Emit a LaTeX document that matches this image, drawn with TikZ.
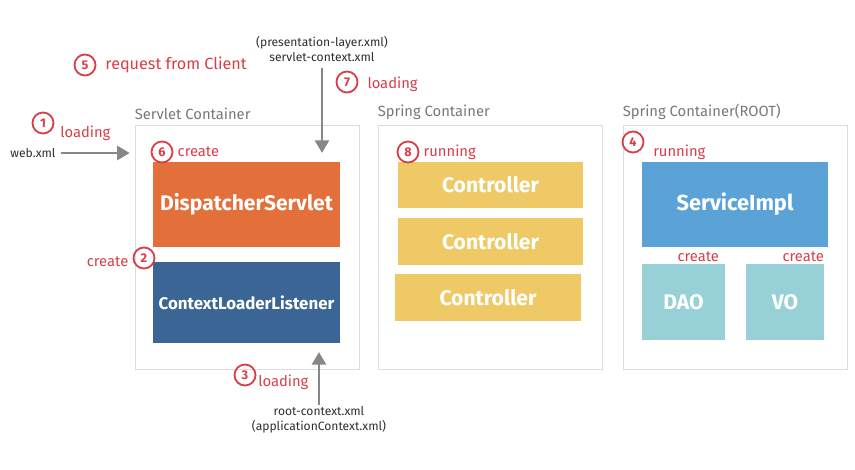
\documentclass[tikz,border=0pt]{standalone}
\usepackage{fontspec}
\setmainfont{Fira Sans}
\usepackage{tikz}
\usetikzlibrary{positioning}
\usetikzlibrary{arrows.meta}
\definecolor{color-frame}{RGB}{221,221,221}
\definecolor{color-title}{RGB}{120,120,120}
\definecolor{color-num}{RGB}{216,62,72}
\definecolor{color-file}{RGB}{45,45,45}
\definecolor{color-arrow}{RGB}{135,135,135}
\definecolor{color-dispatcher}{RGB}{227,112,58}
\definecolor{color-listener}{RGB}{58,101,149}
\definecolor{color-controller}{RGB}{238,201,101}
\definecolor{color-service}{RGB}{91,163,214}
\definecolor{color-dao}{RGB}{151,208,214}

\begin{document}
\begin{tikzpicture}[x=0.025cm, y=-0.025cm, node distance=0.1cm, >={Triangle[length=9pt,width=10pt]},
  container/.style={draw=color-frame, line width=0.7pt, minimum width=224*0.025cm, minimum height=244*0.025cm, inner sep=0},
  title/.style={text=color-title, font=\fontsize{10.5}{12}\selectfont, inner sep=0},
  num/.style={circle, draw=color-num, line width=1.3pt, text=color-num, font=\bfseries\fontsize{9}{10}\selectfont, minimum size=21*0.025cm, inner sep=0},
  note/.style={text=color-num, font=\fontsize{10.5}{12}\selectfont, inner sep=0},
  file/.style={text=color-file, font=\fontsize{8.6}{10.5}\selectfont, align=center, inner sep=0},
  block/.style={fill=#1, text=white, font=\fontseries{sb}\fontsize{15}{17}\selectfont, inner sep=0},
  arr/.style={->, draw=color-arrow, line width=2pt}]

\useasboundingbox (0,0) rectangle (855,469);

% containers
\node [container] (servlet) at (247,247) {};
\node [title, above right=0.12cm and 0cm of servlet.north west] {Servlet Container};

\node [container] (spring) at (490,247) {};
\node [title, above right=0.12cm and 0cm of spring.north west] {Spring Container};

\node [container] (root) at (735,247) {};
\node [title, above right=0.12cm and 0cm of root.north west] {Spring Container(ROOT)};

% servlet container
\node [block=color-dispatcher, minimum width=187*0.025cm, minimum height=85*0.025cm] (dispatcher) at (246.5,204.5) {DispatcherServlet};
\node [block=color-listener, minimum width=187*0.025cm, minimum height=81*0.025cm, font=\fontseries{sb}\fontsize{12}{14}\selectfont] (listener) at (246.5,302.5) {ContextLoaderListener};

% spring container
\node [block=color-controller, minimum width=185*0.025cm, minimum height=46*0.025cm] (ctrl1) at (490.5,185) {Controller};
\node [block=color-controller, minimum width=185*0.025cm, minimum height=47*0.025cm] (ctrl2) at (490.5,241.5) {Controller};
\node [block=color-controller, minimum width=186*0.025cm, minimum height=47*0.025cm] (ctrl3) at (488,297.5) {Controller};

% root container
\node [block=color-service, minimum width=186*0.025cm, minimum height=85*0.025cm, font=\fontseries{sb}\fontsize{15.5}{17}\selectfont] (service) at (735,204.5) {ServiceImpl};
\node [block=color-dao, minimum width=83*0.025cm, minimum height=76*0.025cm] (dao) at (683.5,302) {DAO};
\node [block=color-dao, minimum width=78*0.025cm, minimum height=76*0.025cm] (vo) at (785,302) {VO};
\node [note, anchor=south east, xshift=-0.15cm, yshift=0.05cm] at (dao.north east) {create};
\node [note, anchor=south east, yshift=0.05cm] at (vo.north east) {create};

% files
\node [file] (webxml) at (33,153) {web.xml};
\node [file] (srvctx) at (322,49) {(presentation-layer.xml)\\servlet-context.xml};
\node [file] (rootctx) at (319,420) {root-context.xml\\(applicationContext.xml)};

\draw [arr, shorten <=0.12cm, shorten >=0.12cm] (webxml) -- (servlet.west |- webxml);
\draw [arr, shorten <=0.15cm, shorten >=0.22cm] (srvctx) -- (srvctx |- dispatcher.north);
\draw [arr, shorten <=0.05cm, shorten >=0.22cm] (rootctx) -- (rootctx |- listener.south);

% steps
\node [num] (n1) at (43,123) {1};
\node [note, anchor=west] at (60,133) {loading};

\node [num] (n2) at (144,258) {2};
\node [note, left=0.1cm of n2, yshift=-0.1cm] {create};

\node [num] (n3) at (245,375) {3};
\node [note, anchor=west] at (258,382) {loading};

\node [num] (n4) at (633,142) {4};
\node [note, anchor=west] at (653,152) {running};

\node [num] (n5) at (85,65) {5};
\node [note, right=0.22cm of n5, font=\fontsize{11.5}{13}\selectfont] {request from Client};

\node [num] (n6) at (162,152) {6};
\node [note, right=0.1cm of n6] {create};

\node [num] (n7) at (347,82) {7};
\node [note, right=0.22cm of n7, yshift=-0.07cm] {loading};

\node [num] (n8) at (408,152) {8};
\node [note, right=0.1cm of n8] {running};

\end{tikzpicture}
\end{document}
